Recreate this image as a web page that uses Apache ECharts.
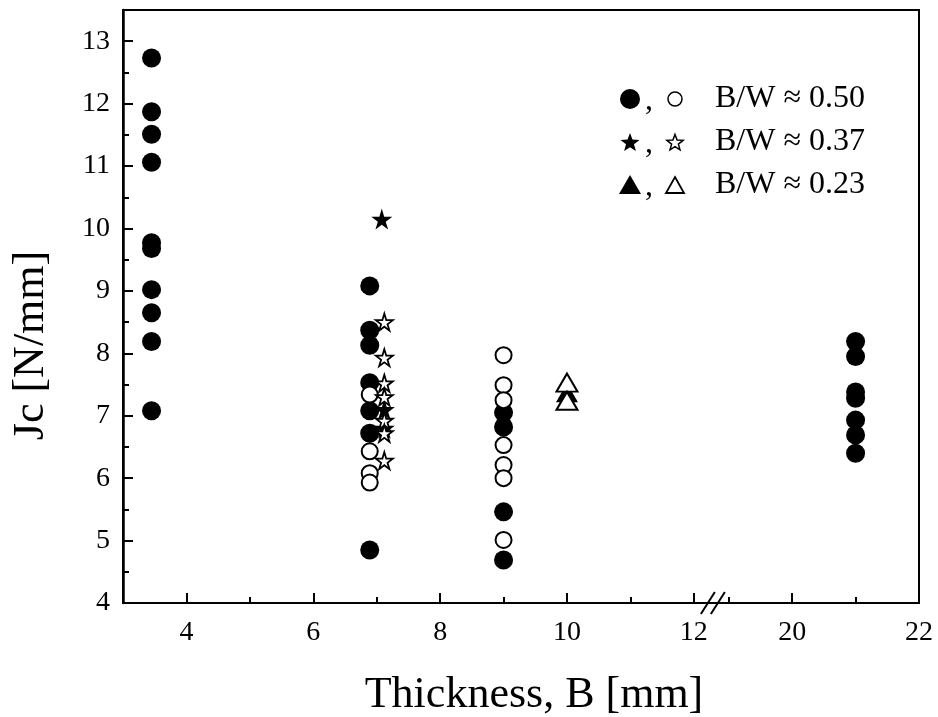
<!DOCTYPE html>
<html>
<head>
<meta charset="utf-8">
<script src="https://cdn.jsdelivr.net/npm/echarts@6/dist/echarts.min.js"></script>
<style>
  html, body { margin: 0; padding: 0; background: #fff; }
  #chart { width: 938px; height: 717px; }
</style>
</head>
<body>
<div id="chart"></div>
<script>
// thickness values past the axis break are moved left by this amount
var BREAK_SHIFT = 6.45;

// tick labels
var xMajorTicks = [4, 6, 8, 10, 12, 20, 22];
var xMinorTicks = [5, 7, 9, 11, 19, 21];
var yMajorTicks = [4, 5, 6, 7, 8, 9, 10, 11, 12, 13];
var yMinorTicks = [4.5, 5.5, 6.5, 7.5, 8.5, 9.5, 10.5, 11.5, 12.5];
var breakMarkB = [12.3];

// B/W ~ 0.50, filled circles
var solidCircleB  = [3.45, 3.45, 3.45, 3.45, 3.45, 3.45, 3.45, 3.45, 3.45, 3.45,
                     6.89, 6.89, 6.89, 6.89, 6.89, 6.89, 6.89,
                     9.0, 9.0, 9.0, 9.0,
                     21, 21, 21, 21, 21, 21, 21];
var solidCircleJc = [12.73, 11.87, 11.51, 11.06, 9.77, 9.68, 9.02, 8.65, 8.19, 7.08,
                     9.08, 8.37, 8.13, 7.53, 7.08, 6.72, 4.85,
                     7.05, 6.82, 5.46, 4.69,
                     8.19, 7.95, 7.38, 7.28, 6.93, 6.69, 6.40];
// B/W ~ 0.50, open circles
var openCircleB  = [6.89, 6.89, 6.89, 6.89, 9.0, 9.0, 9.0, 9.0, 9.0, 9.0, 9.0];
var openCircleJc = [7.34, 6.43, 6.08, 5.93, 7.97, 7.49, 7.25, 6.53, 6.21, 6.0, 5.01];
// B/W ~ 0.37, stars
var solidStarB  = [7.08, 7.12, 7.12];
var solidStarJc = [10.15, 7.1, 6.8];
var openStarB  = [7.12, 7.12, 7.12, 7.12, 7.12, 7.12, 7.12];
var openStarJc = [8.5, 7.93, 7.52, 7.3, 6.92, 6.72, 6.28];
// B/W ~ 0.23, triangles
var solidTriB  = [10.0];
var solidTriJc = [7.37];
var openTriB  = [10.0, 10.0];
var openTriJc = [7.53, 7.24];

var STAR = 'path://M50,0 L61,35 L98,35 L68,57 L79,91 L50,70 L21,91 L32,57 L2,35 L39,35 Z';
var FONT = 'Liberation Serif';

function bx(v) { return v > 15 ? v - BREAK_SHIFT : v; }
function pairs(xs, ys) {
  var out = [];
  for (var i = 0; i < xs.length; i++) out.push([bx(xs[i]), ys[i]]);
  return out;
}
// five point star outline for the legend
function starPoints(cx, cy, r) {
  var pts = [];
  for (var k = 0; k < 10; k++) {
    var rr = k % 2 ? r * 0.42 : r;
    var a = -Math.PI / 2 + k * Math.PI / 5;
    pts.push([cx + rr * Math.cos(a), cy + rr * Math.sin(a)]);
  }
  return pts;
}
function legendText(txt, x, y) {
  return { type: 'text', x: x, y: y, style: { text: txt, font: '32px "' + FONT + '"', fill: '#000', verticalAlign: 'middle' } };
}

var myChart = echarts.init(document.getElementById('chart'));

var axisBase = {
  type: 'value',
  splitLine: { show: false },
  axisLine: { lineStyle: { color: '#000', width: 2 } }
};

var option = {
  animation: false,
  grid: {
    left: 123, right: 19, top: 10, bottom: 114,
    containLabel: false, outerBoundsMode: 'none',
    show: true, borderColor: '#000', borderWidth: 2
  },
  xAxis: [
    Object.assign({}, axisBase, {
      min: 3, max: bx(22),
      axisTick: { inside: true, length: 10, customValues: xMajorTicks.map(bx), lineStyle: { color: '#000', width: 2 } },
      axisLabel: {
        customValues: xMajorTicks.map(bx),
        formatter: function (v) { return String(Math.round(v > 12.5 ? v + BREAK_SHIFT : v)); },
        fontFamily: FONT, fontSize: 28, color: '#000', margin: 16
      },
      name: 'Thickness, B [mm]', nameLocation: 'middle', nameGap: 70,
      nameTextStyle: { fontFamily: FONT, fontSize: 44, color: '#000', padding: [0, 0, 0, 26] }
    }),
    Object.assign({}, axisBase, {
      min: 3, max: bx(22), position: 'bottom',
      axisLine: { show: false },
      axisTick: { inside: true, length: 6, customValues: xMinorTicks.map(bx), lineStyle: { color: '#000', width: 2 } },
      axisLabel: { show: false }
    })
  ],
  yAxis: [
    Object.assign({}, axisBase, {
      min: 4, max: 13.5,
      axisLine: { lineStyle: { color: '#000', width: 2.5 } },
      axisTick: { inside: true, length: 10, customValues: yMajorTicks, lineStyle: { color: '#000', width: 2 } },
      axisLabel: { customValues: yMajorTicks, fontFamily: FONT, fontSize: 28, color: '#000', margin: 13 },
      name: 'Jc [N/mm]', nameLocation: 'middle', nameGap: 70,
      nameTextStyle: { fontFamily: FONT, fontSize: 44, color: '#000', padding: [0, 78, 0, 0] }
    }),
    Object.assign({}, axisBase, {
      min: 4, max: 13.5, position: 'left',
      axisLine: { show: false },
      axisTick: { inside: true, length: 6, customValues: yMinorTicks, lineStyle: { color: '#000', width: 2 } },
      axisLabel: { show: false }
    })
  ],
  series: [
    {
      type: 'scatter', data: pairs(solidCircleB, solidCircleJc),
      symbol: 'circle', symbolSize: 19, itemStyle: { color: '#000', opacity: 1 }, z: 2
    },
    {
      type: 'scatter', data: pairs(solidStarB, solidStarJc),
      symbol: STAR, symbolSize: 21, itemStyle: { color: '#000', opacity: 1 }, z: 3
    },
    {
      type: 'scatter', data: pairs(openCircleB, openCircleJc),
      symbol: 'circle', symbolSize: 16,
      itemStyle: { color: '#fff', borderColor: '#000', borderWidth: 2, opacity: 1 }, z: 4
    },
    {
      type: 'scatter', data: pairs(openStarB, openStarJc),
      symbol: STAR, symbolSize: 17,
      itemStyle: { color: '#fff', borderColor: '#000', borderWidth: 1.8, opacity: 1 }, z: 5
    },
    {
      type: 'scatter', data: pairs(solidTriB, solidTriJc),
      symbol: 'triangle', symbolSize: [22, 19], itemStyle: { color: '#000', opacity: 1 }, z: 5
    },
    {
      type: 'scatter', data: pairs(openTriB, openTriJc),
      symbol: 'triangle', symbolSize: [21, 18],
      itemStyle: { color: '#fff', borderColor: '#000', borderWidth: 2, opacity: 1 }, z: 6
    },
    {
      // "//" axis break marker
      type: 'custom', clip: false, silent: true, z: 10,
      data: breakMarkB.map(function (b) { return [b, 4]; }),
      renderItem: function (params, api) {
        var p = api.coord([api.value(0), api.value(1)]);
        return {
          type: 'group',
          children: [-5, 5].map(function (dx) {
            return {
              type: 'line',
              shape: { x1: p[0] + dx - 7, y1: p[1] + 11, x2: p[0] + dx + 7, y2: p[1] - 11 },
              style: { stroke: '#000', lineWidth: 2 }
            };
          })
        };
      }
    }
  ],
  graphic: [
    // legend
    { type: 'circle', shape: { cx: 630, cy: 99, r: 10 }, style: { fill: '#000' } },
    legendText(',', 645, 101),
    { type: 'circle', shape: { cx: 675, cy: 99, r: 7 }, style: { fill: '#fff', stroke: '#000', lineWidth: 1.5 } },
    legendText('B/W \u2248 0.50', 715, 99),

    { type: 'polygon', shape: { points: starPoints(630, 143, 10) }, style: { fill: '#000' } },
    legendText(',', 645, 144),
    { type: 'polygon', shape: { points: starPoints(675, 143, 8.5) }, style: { fill: '#fff', stroke: '#000', lineWidth: 1.5 } },
    legendText('B/W \u2248 0.37', 715, 142),

    { type: 'polygon', shape: { points: [[630, 175], [641, 194], [619, 194]] }, style: { fill: '#000' } },
    legendText(',', 645, 187),
    { type: 'polygon', shape: { points: [[675, 177], [684, 193], [666, 193]] }, style: { fill: '#fff', stroke: '#000', lineWidth: 1.8 } },
    legendText('B/W \u2248 0.23', 715, 185)
  ]
};

myChart.setOption(option);
</script>
</body>
</html>
